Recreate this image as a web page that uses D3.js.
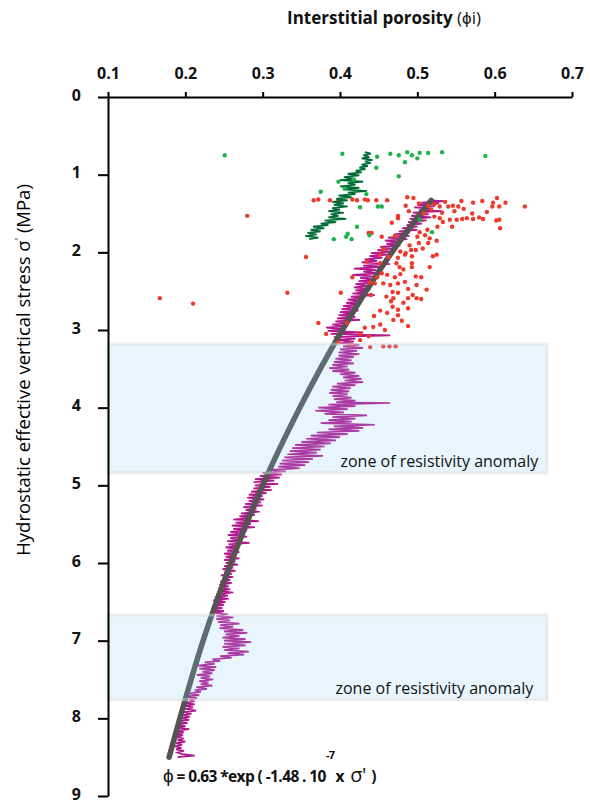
<!DOCTYPE html>
<html>
<head>
    <title>Interstitial porosity vs effective stress</title>
    <script src="https://d3js.org/d3.v7.min.js"></script>
    <style>
        body {
            margin: 0;
            background: #fff;
            font-family: "Open Sans", Arial, sans-serif;
        }
        .axis path, .axis line {
            stroke: #000;
            stroke-width: 2;
        }
        .axis text {
            font-family: "Open Sans", Arial, sans-serif;
            font-weight: bold;
            font-size: 16px;
            fill: #111;
        }
    </style>
</head>
<body>
    <div id="chart"></div>
    <script>
        // x tick values (porosity) and y tick values (stress, MPa)
        const porosityTicks = [0.1, 0.2, 0.3, 0.4, 0.5, 0.6, 0.7];
        const stressTicks = [0, 1, 2, 3, 4, 5, 6, 7, 8, 9];

        // zones of resistivity anomaly: [top stress, bottom stress]
        const anomalyZones = [[3.18, 4.84], [6.67, 7.76]];
        const zoneLabel = "zone of resistivity anomaly";

        // exponential fit: [stress, porosity]
        const fitCurve = [
            [1.33, 0.518], [2, 0.467], [3, 0.403], [4, 0.348], [5, 0.300],
            [6, 0.259], [7, 0.223], [8, 0.193], [8.5, 0.179]
        ];

        // porosity log (magenta): [stress, porosity]
        const logMagenta = [
            [1.33,0.515],[1.34,0.535],[1.36,0.505],[1.37,0.528],[1.39,0.50],[1.41,0.522],[1.42,0.496],[1.44,0.52],
            [1.46,0.502],[1.47,0.532],[1.49,0.494],[1.51,0.515],[1.53,0.492],[1.55,0.518],[1.57,0.49],[1.59,0.512],
            [1.61,0.488],[1.63,0.506],[1.65,0.486],[1.67,0.50],[1.69,0.48],[1.71,0.50],[1.73,0.476],[1.75,0.49],
            [1.77,0.47],[1.79,0.49],[1.81,0.462],[1.83,0.487],[1.85,0.458],[1.87,0.475],[1.89,0.46],[1.91,0.478],
            [1.93,0.452],[1.95,0.47],[1.97,0.448],[1.99,0.466],[2.01,0.44],[2.03,0.462],[2.05,0.438],[2.07,0.455],
            [2.09,0.432],[2.11,0.448],[2.13,0.428],[2.15,0.465],[2.17,0.43],[2.19,0.452],[2.21,0.418],[2.23,0.447],
            [2.25,0.43],[2.27,0.45],[2.29,0.416],[2.31,0.442],[2.33,0.426],[2.35,0.446],[2.37,0.424],[2.39,0.44],
            [2.41,0.42],[2.43,0.438],[2.45,0.418],[2.47,0.44],[2.49,0.42],[2.51,0.436],[2.53,0.416],[2.55,0.445],
            [2.57,0.414],[2.59,0.43],[2.61,0.41],[2.63,0.428],[2.65,0.408],[2.67,0.426],[2.69,0.404],[2.71,0.42],
            [2.73,0.402],[2.75,0.424],[2.77,0.40],[2.79,0.418],[2.81,0.398],[2.83,0.42],[2.85,0.396],[2.87,0.426],
            [2.89,0.394],[2.91,0.412],[2.93,0.39],[2.95,0.41],[2.97,0.382],[2.99,0.405],[3.01,0.384],[3.03,0.43],
            [3.05,0.388],[3.07,0.465],[3.09,0.392],[3.11,0.42],[3.13,0.398],[3.15,0.418],[3.17,0.40],[3.19,0.425],
            [3.21,0.404],[3.23,0.43],[3.25,0.40],[3.27,0.422],[3.29,0.398],[3.31,0.425],[3.33,0.398],[3.35,0.418],
            [3.37,0.394],[3.39,0.415],[3.41,0.392],[3.43,0.418],[3.45,0.39],[3.47,0.41],[3.49,0.386],[3.51,0.412],
            [3.53,0.39],[3.55,0.42],[3.57,0.40],[3.59,0.425],[3.61,0.404],[3.63,0.428],[3.65,0.406],[3.67,0.43],
            [3.69,0.396],[3.71,0.42],[3.73,0.39],[3.75,0.414],[3.77,0.388],[3.79,0.412],[3.81,0.386],[3.83,0.41],
            [3.85,0.39],[3.87,0.415],[3.89,0.392],[3.91,0.42],[3.93,0.395],[3.94,0.465],[3.96,0.385],[3.98,0.42],
            [4.00,0.372],[4.02,0.41],[4.04,0.368],[4.06,0.405],[4.08,0.38],[4.10,0.435],[4.12,0.39],[4.14,0.42],
            [4.16,0.385],[4.18,0.415],[4.20,0.375],[4.22,0.445],[4.24,0.392],[4.26,0.43],[4.28,0.385],[4.30,0.425],
            [4.32,0.37],[4.34,0.41],[4.36,0.362],[4.38,0.40],[4.40,0.356],[4.42,0.395],[4.44,0.35],[4.46,0.388],
            [4.48,0.342],[4.50,0.38],[4.52,0.338],[4.54,0.375],[4.56,0.335],[4.58,0.37],[4.60,0.332],[4.62,0.378],
            [4.64,0.328],[4.66,0.365],[4.68,0.325],[4.70,0.36],[4.72,0.322],[4.74,0.355],[4.76,0.32],[4.78,0.348],
            [4.80,0.31],[4.82,0.33],[4.84,0.30],[4.86,0.325],[4.88,0.296],[4.90,0.322],[4.92,0.29],[4.94,0.315],
            [4.96,0.288],[4.98,0.32],[5.00,0.29],[5.02,0.31],[5.04,0.288],[5.06,0.312],[5.08,0.285],[5.10,0.305],
            [5.12,0.282],[5.14,0.30],[5.16,0.28],[5.18,0.302],[5.20,0.282],[5.22,0.298],[5.24,0.277],[5.26,0.30],
            [5.28,0.275],[5.30,0.292],[5.32,0.278],[5.34,0.296],[5.36,0.272],[5.38,0.29],[5.40,0.27],[5.42,0.285],
            [5.44,0.262],[5.46,0.295],[5.48,0.265],[5.50,0.285],[5.52,0.26],[5.54,0.29],[5.56,0.262],[5.58,0.28],
            [5.60,0.258],[5.62,0.275],[5.64,0.255],[5.66,0.28],[5.68,0.258],[5.70,0.272],[5.72,0.254],[5.74,0.283],
            [5.76,0.256],[5.78,0.27],[5.80,0.252],[5.82,0.268],[5.84,0.254],[5.86,0.27],[5.88,0.25],[5.90,0.265],
            [5.92,0.252],[5.94,0.27],[5.96,0.25],[5.98,0.265],[6.00,0.252],[6.02,0.268],[6.04,0.25],[6.06,0.262],
            [6.08,0.248],[6.10,0.265],[6.12,0.25],[6.14,0.26],[6.16,0.246],[6.18,0.262],[6.20,0.248],[6.22,0.258],
            [6.24,0.245],[6.26,0.26],[6.28,0.244],[6.30,0.256],[6.32,0.243],[6.34,0.258],[6.36,0.242],[6.38,0.262],
            [6.40,0.24],[6.42,0.255],[6.44,0.238],[6.46,0.256],[6.48,0.236],[6.50,0.252],[6.52,0.238],[6.54,0.25],
            [6.56,0.236],[6.58,0.248],[6.60,0.234],[6.62,0.25],[6.64,0.236],[6.66,0.255],[6.68,0.24],[6.70,0.262],
            [6.72,0.24],[6.74,0.258],[6.76,0.242],[6.78,0.27],[6.80,0.245],[6.82,0.262],[6.84,0.244],[6.86,0.275],
            [6.88,0.25],[6.90,0.28],[6.92,0.252],[6.94,0.27],[6.96,0.248],[6.98,0.278],[7.00,0.25],[7.02,0.285],
            [7.04,0.25],[7.06,0.278],[7.08,0.248],[7.10,0.27],[7.12,0.25],[7.14,0.282],[7.16,0.255],[7.18,0.276],
            [7.20,0.245],[7.22,0.26],[7.24,0.235],[7.26,0.245],[7.28,0.225],[7.30,0.238],[7.32,0.215],[7.34,0.24],
            [7.36,0.218],[7.38,0.238],[7.40,0.222],[7.42,0.235],[7.44,0.215],[7.46,0.232],[7.48,0.22],[7.50,0.236],
            [7.52,0.218],[7.54,0.23],[7.56,0.22],[7.58,0.235],[7.60,0.214],[7.62,0.228],[7.64,0.212],[7.66,0.22],
            [7.68,0.205],[7.70,0.218],[7.72,0.2],[7.74,0.215],[7.76,0.205],[7.78,0.212],[7.80,0.2],[7.82,0.212],
            [7.84,0.198],[7.86,0.21],[7.88,0.2],[7.90,0.214],[7.92,0.198],[7.94,0.208],[7.96,0.196],[7.98,0.206],
            [8.00,0.195],[8.02,0.205],[8.04,0.192],[8.06,0.203],[8.08,0.19],[8.10,0.2],[8.12,0.19],[8.14,0.205],
            [8.16,0.19],[8.18,0.198],[8.20,0.188],[8.22,0.197],[8.24,0.186],[8.26,0.198],[8.28,0.19],[8.30,0.2],
            [8.32,0.188],[8.34,0.196],[8.36,0.186],[8.38,0.195],[8.40,0.188],[8.42,0.198],[8.44,0.19],[8.46,0.196],
            [8.48,0.212],[8.50,0.19]
        ];

        // shallow porosity log (dark green): [stress, porosity]
        const logGreen = [
            [0.71,0.432],[0.73,0.44],[0.75,0.43],[0.77,0.438],[0.79,0.428],[0.81,0.442],[0.83,0.432],[0.85,0.44],
            [0.87,0.428],[0.89,0.436],[0.91,0.425],[0.93,0.433],[0.95,0.42],[0.97,0.428],[0.99,0.41],[1.01,0.425],
            [1.03,0.405],[1.05,0.418],[1.07,0.40],[1.09,0.43],[1.11,0.41],[1.13,0.42],[1.15,0.40],[1.17,0.425],
            [1.19,0.405],[1.21,0.435],[1.23,0.41],[1.25,0.42],[1.27,0.398],[1.29,0.415],[1.31,0.395],[1.33,0.41],
            [1.35,0.39],[1.37,0.405],[1.39,0.392],[1.41,0.41],[1.43,0.39],[1.45,0.40],[1.47,0.385],[1.49,0.405],
            [1.51,0.388],[1.53,0.398],[1.55,0.385],[1.57,0.408],[1.59,0.38],[1.61,0.395],[1.63,0.375],[1.65,0.385],
            [1.67,0.365],[1.69,0.38],[1.71,0.362],[1.73,0.375],[1.75,0.358],[1.77,0.37],[1.79,0.355],[1.81,0.372],
            [1.83,0.36]
        ];

        // light green samples: [porosity, stress]
        const samplesGreen = [
            [0.251,0.75],[0.403,0.73],[0.448,0.77],[0.465,0.73],[0.476,0.75],[0.487,0.71],[0.493,0.75],[0.50,0.79],
            [0.503,0.72],[0.514,0.72],[0.532,0.71],[0.484,0.84],[0.588,0.76],[0.447,0.91],[0.476,1.02],[0.398,1.09],
            [0.375,1.22],[0.406,1.18],[0.426,1.42],[0.449,1.41],[0.454,1.41],[0.422,1.67],[0.41,1.76],[0.408,1.80],
            [0.415,1.83],[0.392,1.83],[0.438,1.78],[0.519,1.74],[0.503,1.58],[0.434,1.25],[0.418,1.06]
        ];

        // red samples: [porosity, stress]
        const samplesRed = [
            [0.366,1.33],[0.372,1.32],[0.387,1.33],[0.398,1.33],[0.416,1.32],[0.422,1.33],[0.432,1.32],[0.436,1.33],
            [0.447,1.33],[0.461,1.33],[0.487,1.29],[0.495,1.30],[0.485,1.40],[0.475,1.53],[0.475,1.56],[0.502,1.37],
            [0.514,1.40],[0.522,1.38],[0.529,1.41],[0.536,1.35],[0.540,1.41],[0.546,1.40],[0.557,1.34],[0.553,1.41],
            [0.560,1.44],[0.572,1.36],[0.584,1.34],[0.598,1.36],[0.603,1.30],[0.606,1.41],[0.597,1.41],[0.639,1.41],
            [0.522,1.54],[0.529,1.56],[0.533,1.61],[0.542,1.58],[0.551,1.58],[0.558,1.57],[0.564,1.56],[0.572,1.57],
            [0.580,1.55],[0.585,1.57],[0.602,1.59],[0.606,1.58],[0.607,1.69],[0.545,1.67],[0.526,1.67],[0.513,1.71],
            [0.503,1.74],[0.437,1.75],[0.441,1.75],[0.454,1.80],[0.471,1.79],[0.500,1.80],[0.510,1.78],[0.516,1.82],
            [0.525,1.85],[0.514,1.88],[0.502,1.88],[0.490,1.91],[0.492,1.97],[0.485,2.01],[0.493,2.05],[0.498,1.97],
            [0.478,1.99],[0.484,2.03],[0.475,2.07],[0.493,2.14],[0.473,2.14],[0.477,2.19],[0.493,2.19],[0.516,2.19],
            [0.520,2.05],[0.525,2.03],[0.461,2.29],[0.471,2.32],[0.478,2.28],[0.456,2.40],[0.465,2.42],[0.475,2.40],
            [0.484,2.38],[0.498,2.31],[0.499,2.42],[0.468,2.51],[0.475,2.52],[0.488,2.47],[0.494,2.55],[0.460,2.57],
            [0.469,2.59],[0.488,2.59],[0.499,2.59],[0.505,2.60],[0.482,2.65],[0.475,2.74],[0.488,2.72],[0.461,2.78],
            [0.475,2.81],[0.469,2.87],[0.443,2.96],[0.452,2.93],[0.488,2.95],[0.432,2.97],[0.426,3.13],[0.456,3.21],
            [0.464,3.21],[0.472,3.21],[0.439,3.22],[0.416,2.32],[0.372,2.91],[0.382,3.05],[0.426,3.05],[0.409,2.91],
            [0.356,2.06],[0.332,2.52],[0.401,2.52],[0.439,2.39],[0.448,2.32],[0.452,2.14],[0.456,1.96],[0.452,2.03],
            [0.435,2.12],[0.454,2.27],[0.445,2.40],[0.440,2.55],[0.452,2.75],[0.468,2.70],[0.444,2.82],[0.467,1.62],
            [0.489,1.47],[0.508,1.50],[0.518,1.45],[0.532,1.49],[0.548,1.47],[0.571,1.50],[0.590,1.48],[0.614,1.36],
            [0.505,2.32],[0.512,2.48],[0.482,2.22],[0.463,2.06],[0.507,1.95],[0.466,2.63],[0.480,2.88],[0.458,3.00],
            [0.437,3.08],[0.398,3.16],[0.415,3.19],[0.167,2.59],[0.21,2.66],[0.28,1.53]
        ];

        const width = 590, height = 805;
        const x = d3.scaleLinear().domain([0.1, 0.7]).range([108, 572]);
        const y = d3.scaleLinear().domain([0, 9]).range([97, 796]);

        const svg = d3.select('#chart')
            .append('svg')
            .attr('width', width)
            .attr('height', height);

        // magenta log
        const line = d3.line().x(d => x(d[1])).y(d => y(d[0]));
        svg.append('path')
            .datum(logMagenta)
            .attr('d', line)
            .attr('fill', 'none')
            .attr('stroke', '#b3188f')
            .attr('stroke-width', 1.7);

        // fit curve
        svg.append('path')
            .datum(fitCurve)
            .attr('d', line.curve(d3.curveNatural))
            .attr('fill', 'none')
            .attr('stroke', '#545454')
            .attr('stroke-width', 5.5)
            .attr('stroke-linecap', 'round');
        line.curve(d3.curveLinear);

        // red samples
        svg.append('g')
            .selectAll('circle')
            .data(samplesRed)
            .join('circle')
            .attr('cx', d => x(d[0]))
            .attr('cy', d => y(d[1]))
            .attr('r', 2.2)
            .attr('fill', '#ee3a2c');

        // dark green log
        svg.append('path')
            .datum(logGreen)
            .attr('d', line)
            .attr('fill', 'none')
            .attr('stroke', '#006b35')
            .attr('stroke-width', 1.7);

        // light green samples
        svg.append('g')
            .selectAll('circle')
            .data(samplesGreen)
            .join('circle')
            .attr('cx', d => x(d[0]))
            .attr('cy', d => y(d[1]))
            .attr('r', 2.2)
            .attr('fill', '#22b24c');

        // anomaly bands (drawn over the data, translucent)
        const zones = svg.append('g');
        zones.selectAll('rect')
            .data(anomalyZones)
            .join('rect')
            .attr('x', x(0.1))
            .attr('y', d => y(d[0]))
            .attr('width', x(0.668) - x(0.1))
            .attr('height', d => y(d[1]) - y(d[0]))
            .attr('fill', 'rgb(140,205,245)')
            .attr('fill-opacity', 0.2)
            .attr('stroke', '#dcdcdc')
            .attr('stroke-opacity', 0.45)
            .attr('stroke-width', 3);
        zones.selectAll('text')
            .data(anomalyZones)
            .join('text')
            .attr('x', (d, i) => x(0.668) - (i === 0 ? 9 : 14))
            .attr('y', d => y(d[1]) - 6)
            .attr('text-anchor', 'end')
            .style('font-size', '16px')
            .style('fill', '#111')
            .text(zoneLabel);

        // axes
        const xAxis = d3.axisTop(x)
            .tickValues(porosityTicks)
            .tickFormat(d3.format('.1f'))
            .tickSizeInner(5)
            .tickSizeOuter(0)
            .tickPadding(13);
        svg.append('g')
            .attr('class', 'axis')
            .attr('transform', `translate(0,${y(0)})`)
            .call(xAxis);

        const yAxis = d3.axisLeft(y)
            .tickValues(stressTicks)
            .tickFormat(d3.format('d'))
            .tickSizeInner(10)
            .tickSizeOuter(0)
            .tickPadding(17);
        svg.append('g')
            .attr('class', 'axis')
            .attr('transform', `translate(${x(0.1)},0)`)
            .call(yAxis)
            .selectAll('.tick text')
            .attr('dy', '0.2em');

        // titles
        const title = svg.append('text')
            .attr('x', 384)
            .attr('y', 24)
            .attr('text-anchor', 'middle')
            .style('font-size', '17px')
            .style('font-weight', 'bold')
            .style('fill', '#111');
        title.append('tspan').text('Interstitial porosity ');
        title.append('tspan').style('font-weight', 'normal').text('(ϕi)');

        const yTitle = svg.append('text')
            .attr('transform', 'translate(30,370) rotate(-90)')
            .attr('text-anchor', 'middle')
            .style('font-size', '18.5px')
            .style('fill', '#000');
        yTitle.append('tspan').text('Hydrostatic effective vertical stress σ');
        yTitle.append('tspan').attr('dy', -7).style('font-size', '11px').text("'");
        yTitle.append('tspan').attr('dy', 7).text(' (MPa)');

        // fit equation
        const eq = svg.append('text')
            .attr('x', 163)
            .attr('y', 782)
            .style('font-size', '15.5px')
            .style('font-weight', 'bold')
            .style('letter-spacing', '-0.6px')
            .style('fill', '#111');
        eq.append('tspan').style('font-weight', 'normal').style('font-size', '19px').text('ϕ');
        eq.append('tspan').text(' = 0.63 *exp ( -1.48 . 10');
        eq.append('tspan').attr('dy', -23).style('font-size', '11px').text('-7');
        eq.append('tspan').attr('dy', 23).attr('dx', 1).text('x ');
        eq.append('tspan').attr('dx', 3).style('font-weight', 'normal').style('font-size', '20px').text("σ'");
        eq.append('tspan').attr('dx', 2).text(' )');
    </script>
</body>
</html>
